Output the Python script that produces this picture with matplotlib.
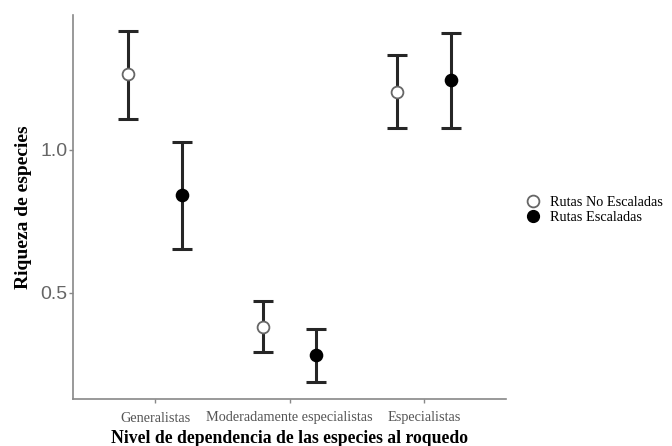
import numpy as np
import matplotlib
matplotlib.use("Agg")
import matplotlib.pyplot as plt
from matplotlib.lines import Line2D

# Data
categorias = ["Generalistas", "Moderadamente especialistas", "Especialistas"]
no_escaladas = [1.264, 0.380, 1.204]
no_esc_low = [1.109, 0.292, 1.077]
no_esc_high = [1.415, 0.472, 1.331]
escaladas = [0.842, 0.282, 1.243]
esc_low = [0.655, 0.190, 1.077]
esc_high = [1.028, 0.373, 1.408]

fig = plt.figure(figsize=(6.72, 4.46), dpi=100)
ax = fig.add_axes([73 / 672, 1 - 399 / 446, 433 / 672, 384 / 446])

x = np.arange(1, len(categorias) + 1)
dodge = 0.2
err_color = "#262626"

def draw(xs, ys, lo, hi, face, edge):
    ys = np.array(ys)
    yerr = [ys - np.array(lo), np.array(hi) - ys]
    ax.errorbar(xs, ys, yerr=yerr, fmt="none", ecolor=err_color,
                elinewidth=2.2, capsize=7.5, capthick=2.2, zorder=2)
    ax.plot(xs, ys, "o", markersize=8.5, markerfacecolor=face,
            markeredgecolor=edge, markeredgewidth=1.3, linestyle="none", zorder=3)

draw(x - dodge, no_escaladas, no_esc_low, no_esc_high, "white", "#666666")
draw(x + dodge, escaladas, esc_low, esc_high, "black", "black")

ax.set_xlim(0.39, 3.61)
ax.set_ylim(0.129, 1.472)
ax.set_yticks([0.5, 1.0])
ax.set_yticklabels(["0.5", "1.0"])
ax.set_xticks(x)
ax.set_xticklabels(categorias, family="Liberation Serif", fontsize=10.3, color="#555555")

for s in ["top", "right"]:
    ax.spines[s].set_visible(False)
for s in ["left", "bottom"]:
    ax.spines[s].set_color("#888888")
    ax.spines[s].set_linewidth(1.2)

ax.tick_params(axis="y", labelsize=14, labelcolor="#666666", color="#888888",
               length=3, width=1, pad=1)
ax.tick_params(axis="x", color="#888888", length=3, width=1, pad=6)
for lab in ax.get_yticklabels():
    lab.set_family("Liberation Sans")

ax.set_ylabel("Riqueza de especies", family="Liberation Serif", fontweight="bold",
              fontsize=14, labelpad=6)
ax.set_xlabel("Nivel de dependencia de las especies al roquedo",
              family="Liberation Serif", fontweight="bold", fontsize=12.7, labelpad=4)

handles = [
    Line2D([], [], marker="o", linestyle="none", markersize=8.5,
           markerfacecolor="white", markeredgecolor="#666666", markeredgewidth=1.3),
    Line2D([], [], marker="o", linestyle="none", markersize=8.5,
           markerfacecolor="black", markeredgecolor="black"),
]
fig.legend(handles, ["Rutas No Escaladas", "Rutas Escaladas"],
           loc="center left", bbox_to_anchor=(506 / 672, 1 - 210 / 446),
           frameon=False, handletextpad=0.2, labelspacing=0.15,
           prop={"family": "Liberation Serif", "size": 10.3})

fig.savefig("out.png", dpi=100)
